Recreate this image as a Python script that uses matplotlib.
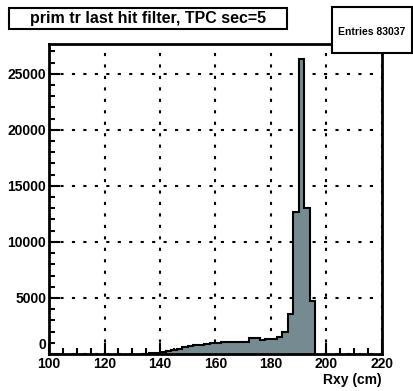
import numpy as np
import matplotlib
matplotlib.use('Agg')
import matplotlib.pyplot as plt
from matplotlib.patches import Rectangle
from matplotlib.ticker import MultipleLocator, FuncFormatter

matplotlib.rcParams['font.family'] = 'Liberation Sans'
matplotlib.rcParams['font.weight'] = 'bold'

# histogram data: 2 cm bins, Rxy in cm
bin_edges = np.arange(134, 198, 2)
counts = [30, 60, 100,
          150, 240, 360, 480, 600, 750, 800, 830, 900, 950,
          1010, 1100, 1040, 1040, 1050, 1100, 1430, 1430, 1220, 1310,
          1340, 1490, 1970, 3580, 12700, 26340, 13000, 4730]
title = 'prim tr last hit filter, TPC sec=5'
entries = 83037
fill_color = '#758b91'

fig = plt.figure(figsize=(4.14, 3.91), dpi=100)
W, H = 414, 391
ax = fig.add_axes([49 / W, 1 - 354 / H, (382 - 49) / W, (354 - 44) / H])

ax.stairs(counts, bin_edges, fill=True, color=fill_color, zorder=2)
ax.stairs(counts, bin_edges, color='black', linewidth=1.5, zorder=3)

ax.set_xlim(100, 220)
ax.set_ylim(0, max(counts) * 1.05)
ax.xaxis.set_major_locator(MultipleLocator(20))
ax.xaxis.set_minor_locator(MultipleLocator(5))
ax.yaxis.set_major_locator(MultipleLocator(5000))
ax.yaxis.set_minor_locator(MultipleLocator(1000))
# "0" on the y axis is drawn separately, raised above the "100"
ax.yaxis.set_major_formatter(FuncFormatter(lambda v, p: '' if v == 0 else '%d' % v))
ax.tick_params(which='both', direction='in', width=1.5, labelsize=10, pad=2)
ax.tick_params(which='major', length=8)
ax.tick_params(which='minor', length=4)
for s in ax.spines.values():
    s.set_linewidth(2)
ax.grid(True, which='major', linestyle=(0, (1.5, 4)), color='black', linewidth=1.5, zorder=1)
ax.set_axisbelow(True)

ax.annotate('0', xy=(0, 0), xycoords=('axes fraction', 'data'), xytext=(-2, 1.5),
            textcoords='offset points', ha='right', va='bottom', fontsize=10,
            fontweight='bold', annotation_clip=False)

# x title at right
fig.text(382 / W, 1 - 380 / H, 'Rxy (cm)', ha='right', va='center', fontsize=10, fontweight='bold')

# title box
fig.patches.append(Rectangle((9 / W, 1 - 29 / H), (287 - 9) / W, 21 / H,
                             transform=fig.transFigure, facecolor='white',
                             edgecolor='black', linewidth=1.5, zorder=5))
fig.text(148 / W, 1 - 18.5 / H, title, ha='center', va='center', fontsize=11.5,
         fontweight='bold', zorder=6)

# stats box
fig.patches.append(Rectangle((332 / W, 1 - 53 / H), (412 - 332) / W, 46 / H,
                             transform=fig.transFigure, facecolor='white',
                             edgecolor='black', linewidth=1.5, zorder=5))
fig.text(372 / W, 1 - 32 / H, 'Entries %d' % entries, ha='center', va='center',
         fontsize=7.5, fontweight='bold', zorder=6)

fig.savefig('out.png', dpi=100)
